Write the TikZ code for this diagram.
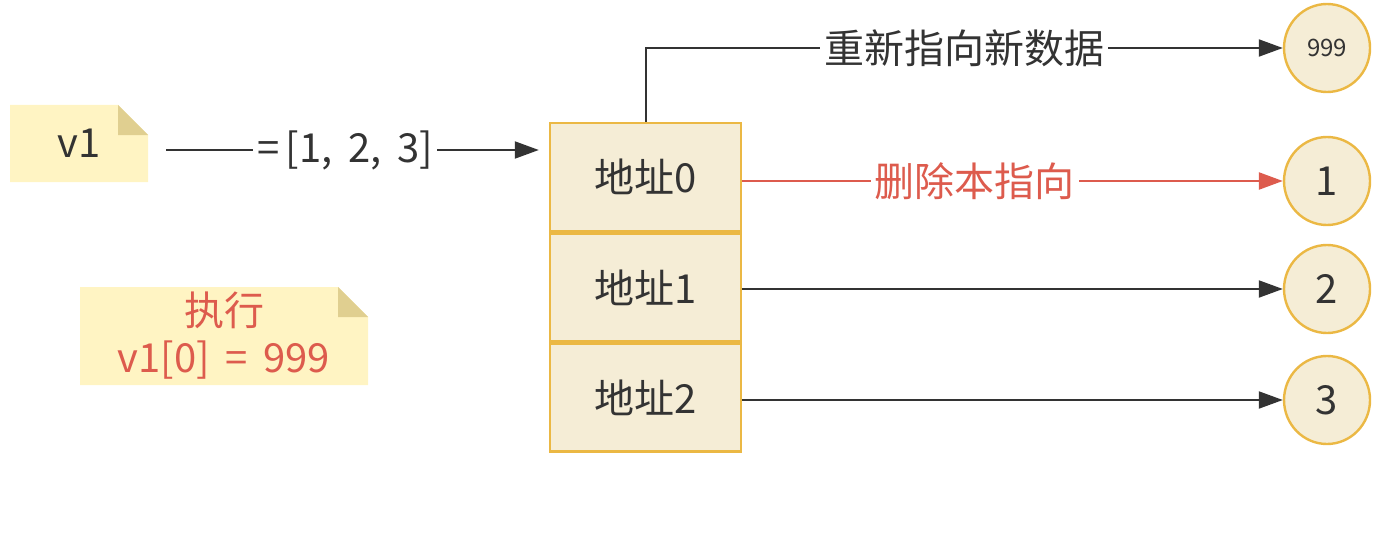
\documentclass[tikz,border=0pt]{standalone}
\usepackage{fontspec}
\setmainfont{Noto Sans CJK SC}
\usepackage{tikz}
\usetikzlibrary{shapes.geometric,arrows.meta,positioning,calc}
\definecolor{inkdark}{HTML}{333333}
\definecolor{alertred}{HTML}{DD5B4D}
\definecolor{notebg}{HTML}{FFF4C3}
\definecolor{notefold}{HTML}{E0CF90}
\definecolor{cellbg}{HTML}{F5EDD6}
\definecolor{cellline}{HTML}{EBB844}

\begin{document}
\begin{tikzpicture}[
    x=0.5pt, y=-0.5pt,
    every node/.style={font=\fontsize{20}{23.5}\selectfont, text=inkdark, align=center},
    notebox/.style={inner sep=0pt, path picture={
        \fill[notebg] (path picture bounding box.south west) -- (path picture bounding box.north west)
            -- ([xshift=-15pt]path picture bounding box.north east) -- ([yshift=-15pt]path picture bounding box.north east)
            -- (path picture bounding box.south east) -- cycle;
        \fill[notefold] ([xshift=-15pt]path picture bounding box.north east) -- ([xshift=-15pt,yshift=-15pt]path picture bounding box.north east)
            -- ([yshift=-15pt]path picture bounding box.north east) -- cycle;}},
    cellbox/.style={draw=cellline, fill=cellbg, line width=1.2pt, minimum width=95.5pt, minimum height=54pt, inner sep=0pt},
    valnode/.style={ellipse, draw=cellline, fill=cellbg, line width=1.2pt, minimum width=43pt, minimum height=44pt, inner sep=0pt},
    link/.style={-{Triangle[length=12pt,width=8.5pt]}, line width=1pt, color=#1},
    link/.default=inkdark,
    tag/.style={fill=white, inner sep=2pt}
]
    \useasboundingbox (0,0) rectangle (1390,540);

    % Notes on the left
    \node[notebox, minimum width=69pt, minimum height=38.5pt] (v1) at (79, 143.5) {v1};
    \node[notebox, minimum width=144pt, minimum height=49pt, text=alertred] (run) at (224, 336) {执行\\v1[0] \,=\, 999};

    % Address cells
    \node[cellbox] (addr0) at (645.5, 177) {地址0};
    \node[cellbox] (addr1) at (645.5, 287.5) {地址1};
    \node[cellbox] (addr2) at (645.5, 397.5) {地址2};

    % Values
    \node[valnode, font=\fontsize{12}{14}\selectfont] (new) at (1327, 48) {999};
    \node[valnode] (val1) at (1327, 181) {1};
    \node[valnode] (val2) at (1327, 289) {2};
    \node[valnode] (val3) at (1327, 400) {3};

    % Assignment
    \draw[link] ([xshift=9pt,yshift=-3.25pt]v1.east) -- ([xshift=-5pt,yshift=13.5pt]addr0.west)
        node[pos=0.48, tag] {=\,[1,\, 2,\, 3]};

    % Pointers
    \draw[link] (addr0.north) |- (new.west) node[pos=0.75, tag] {重新指向新数据};
    \draw[link=alertred, line width=1.2pt] (addr0.east |- val1.west) -- (val1.west)
        node[pos=0.43, tag, text=alertred] {删除本指向};
    \draw[link] (addr1.east |- val2.west) -- (val2.west);
    \draw[link] (addr2.east |- val3.west) -- (val3.west);
\end{tikzpicture}
\end{document}
